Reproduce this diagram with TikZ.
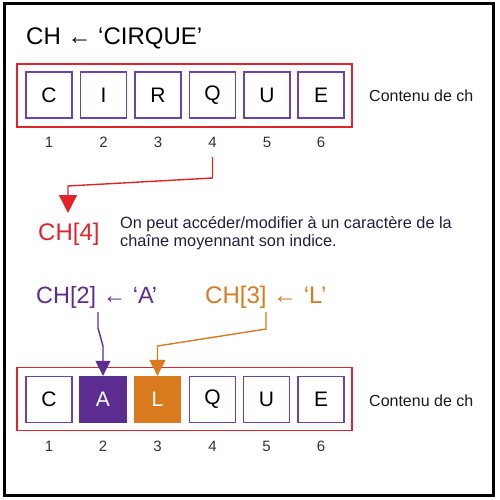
\documentclass[tikz,border=0pt]{standalone}
\usepackage{fontspec}
\setmainfont{Liberation Sans}
\usetikzlibrary{arrows.meta}
\definecolor{redc}{HTML}{E3232B}
\definecolor{purp}{HTML}{5C2D91}
\definecolor{cellc}{HTML}{6F42A8}
\definecolor{oran}{HTML}{D97A1F}
\definecolor{navy}{HTML}{1F1F3F}
\definecolor{digit}{HTML}{333333}
\tikzset{
  fs/.style={font=\fontsize{#1}{#1}\selectfont},
  txt/.style={inner sep=0, anchor=base west},
  cellbox/.style={draw=cellc, line width=1.4pt, minimum width=46pt, minimum height=46pt, inner sep=0, fs=21, text=black},
  fillA/.style={cellbox, fill=purp, draw=purp, text=white},
  fillL/.style={cellbox, fill=oran, draw=oran, text=white},
  redbox/.style={draw=redc, line width=1.8pt, inner sep=0, minimum width=335pt, minimum height=63pt},
  idx/.style={inner sep=0, anchor=base, fs=15, text=digit},
  conn/.style={line width=1.4pt, -{Triangle[length=#1, width=#1]}},
}
\begin{document}
\begin{tikzpicture}[x=1pt, y=-1pt]
\useasboundingbox (0,0) rectangle (500,500);
\draw[line width=3pt] (4,4) rectangle (493,495);
% title
\node[txt, fs=24] (title) at (26,45) {CH ← ‘CIRQUE’};
% top array
\node[redbox] (topbox) at (184.5,95.5) {};
\foreach \i/\x/\c in {1/49/C,2/103.5/I,3/158/R,4/212.5/Q,5/267/U,6/321/E}{
  \node[cellbox] (t\i) at (\x,95) {\c};
  \node[idx] (ti\i) at (\x,147) {\i};
}
\node[txt, fs=16, text=black!90] (cont1) at (369,102) {Contenu de ch};
% CH[4]
\coordinate (s4) at (212.5,157);
\node[txt, fs=24, text=redc] (ch4) at (38,240) {CH[4]};
\draw[redc, conn=18pt] (s4) -- (212.5,178) -- (68,186) -- (68,213);
\node[txt, fs=16.3, text=navy] (desc1) at (120,228) {On peut accéder/modifier à un caractère de la};
\node[txt, fs=16.3, text=navy] (desc2) at (120,246) {chaîne moyennant son indice.};
% assignments
\node[txt, fs=23.5, text=purp] (ch2) at (36,303) {CH[2] ← ‘A’};
\node[txt, fs=24, text=oran] (ch3) at (205,303) {CH[3] ← ‘L’};
% bottom array
\node[redbox] (botbox) at (184.5,399) {};
\node[cellbox] (b1) at (49,399.5) {C};
\node[fillA] (b2) at (103,399.5) {A};
\node[fillL] (b3) at (157.5,399.5) {L};
\node[cellbox] (b4) at (212.5,399.5) {Q};
\node[cellbox] (b5) at (266.5,399.5) {U};
\node[cellbox] (b6) at (321,399.5) {E};
\foreach \i/\x in {1/49,2/103,3/157.5,4/212.5,5/266.5,6/321}{
  \node[idx] (bi\i) at (\x,451) {\i};
}
\node[txt, fs=16, text=black!90] (cont2) at (369,406) {Contenu de ch};
\draw[purp, conn=15pt] (98,312) -- (98,328) -- (103,346) -- (b2.north);
\draw[oran, conn=16pt] (266,312) -- (266,329) -- (157.5,346) -- (b3.north);
\end{tikzpicture}
\end{document}
